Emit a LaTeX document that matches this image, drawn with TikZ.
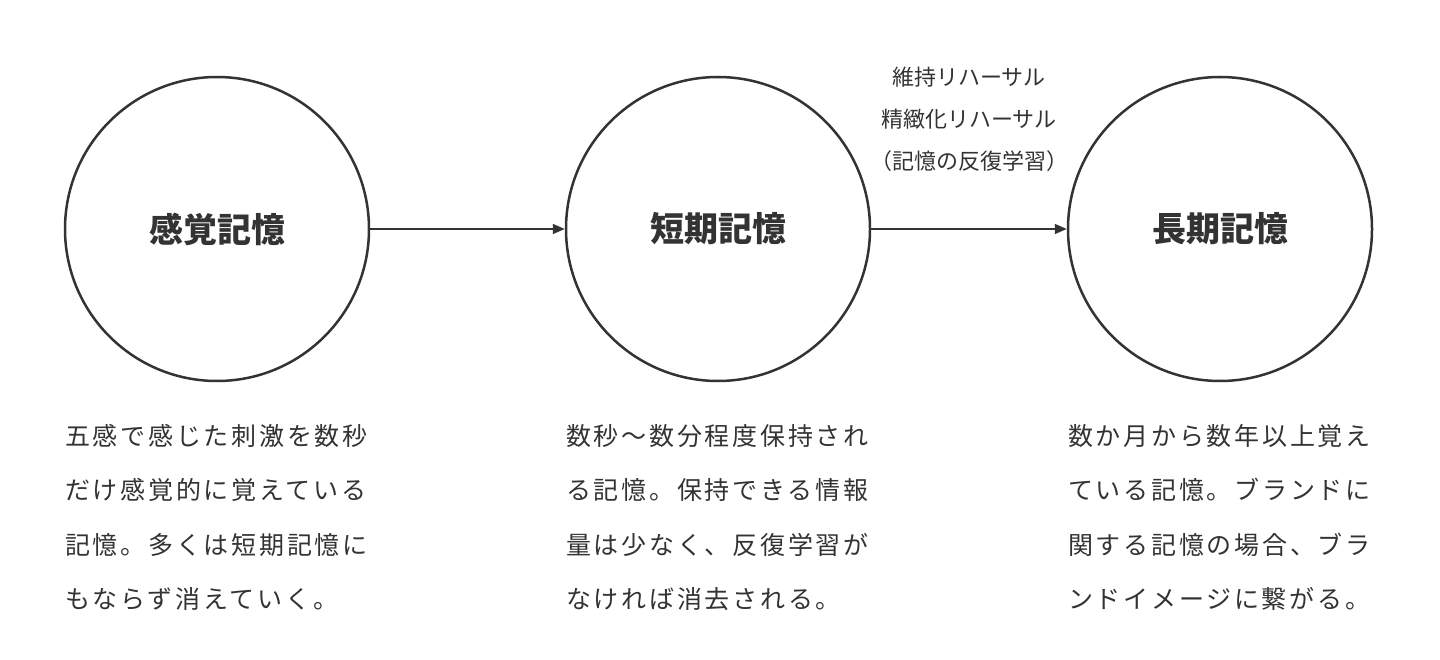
\documentclass[tikz,border=0pt]{standalone}
\usepackage{fontspec}
\setmainfont{Noto Sans CJK JP}
\newfontfamily\bodyfont[LetterSpace=11]{Noto Sans CJK JP}
\usetikzlibrary{arrows.meta}
\definecolor{ink}{HTML}{333333}
\tikzset{
  memcircle/.style={circle, draw=ink, line width=2.5pt, minimum size=304pt, inner sep=0pt,
    text=ink, font=\fontsize{34}{40}\selectfont\bfseries},
  flow/.style={draw=ink, line width=1.6pt, -{Triangle[length=12pt,width=10pt]}},
  desc/.style={anchor=north west, inner sep=0pt, align=left, text=ink,
    font=\bodyfont\fontsize{25}{54.5}\selectfont},
  arrowlabel/.style={inner sep=0pt, align=center, text=ink,
    font=\fontsize{22}{42}\selectfont}
}
\begin{document}
\begin{tikzpicture}[x=1pt,y=-1pt]
\useasboundingbox (0,0) rectangle (1440,660);
\node[memcircle] (sensory) at (217,229) {感覚記憶};
\node[memcircle] (short) at (718,229) {短期記憶};
\node[memcircle] (long) at (1220,229) {長期記憶};
\draw[flow] (sensory) -- (short);
\draw[flow] (short) -- (long);
\node[arrowlabel, anchor=north] (lab) at (969,67) {維持リハーサル\\精緻化リハーサル\\（記憶の反復学習）};
\node[desc] (d1) at (65,424) {五感で感じた刺激を数秒\\だけ感覚的に覚えている\\記憶。多くは短期記憶に\\もならず消えていく。};
\node[desc] (d2) at (566,424) {数秒～数分程度保持され\\る記憶。保持できる情報\\量は少なく、反復学習が\\なければ消去される。};
\node[desc] (d3) at (1068,424) {数か月から数年以上覚え\\ている記憶。ブランドに\\関する記憶の場合、ブラ\\ンドイメージに繋がる。};
\end{tikzpicture}
\end{document}
